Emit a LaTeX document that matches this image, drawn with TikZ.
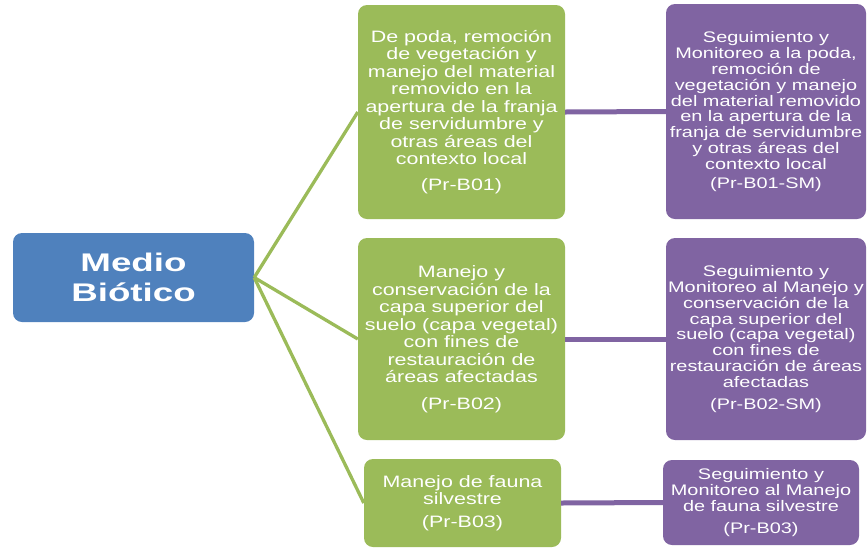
\documentclass[tikz,border=0pt]{standalone}
\usepackage{fontspec}
\setmainfont{Liberation Sans}
\newfontfamily\gfont[FakeStretch=1.3]{Liberation Sans}
\newfontfamily\tfont[FakeStretch=1.44]{Liberation Sans}
\definecolor{mblue}{HTML}{4F81BD}
\definecolor{mgreen}{HTML}{9BBB59}
\definecolor{mpurple}{HTML}{8064A2}
\begin{document}
\begin{tikzpicture}[x=1pt,y=-1pt,
  box/.style={rounded corners=9pt, text=white, align=center, inner sep=0pt, anchor=center},
  tbox/.style={box, fill=mblue, font=\tfont\bfseries\fontsize{25.5}{30}\selectfont},
  gbox/.style={box, fill=mgreen, font=\gfont\fontsize{16.5}{17.5}\selectfont},
  pbox/.style={box, fill=mpurple, font=\gfont\fontsize{15.3}{15.9}\selectfont},
  gline/.style={draw=mgreen, line width=3.3pt},
  pline/.style={draw=mpurple, line width=5pt}]
\useasboundingbox (0,0) rectangle (867,547);

\node[tbox, minimum width=241pt, minimum height=89pt] (m) at (133.5,277.5) {Medio\\Biótico};

\node[gbox, minimum width=207pt, minimum height=214pt] (g1) at (461.5,112)
  {De poda, remoción\\de vegetación y\\manejo del material\\removido en la\\apertura de la franja\\de servidumbre y\\otras áreas del\\contexto local\\[8pt](Pr-B01)};
\node[gbox, minimum width=207pt, minimum height=202pt] (g2) at (461.5,339)
  {Manejo y\\conservación de la\\capa superior del\\suelo (capa vegetal)\\con fines de\\restauración de\\áreas afectadas\\[9pt](Pr-B02)};
\node[gbox, minimum width=197pt, minimum height=88pt] (g3) at (462.5,503)
  {Manejo de fauna\\silvestre\\[5pt](Pr-B03)};

\node[pbox, minimum width=200pt, minimum height=215pt] (p1) at (766,111.5)
  {Seguimiento y\\Monitoreo a la poda,\\remoción de\\vegetación y manejo\\del material removido\\en la apertura de la\\franja de servidumbre\\y otras áreas del\\contexto local\\[3pt](Pr-B01-SM)};
\node[pbox, minimum width=200pt, minimum height=202pt] (p2) at (766,339)
  {Seguimiento y\\Monitoreo al Manejo y\\conservación de la\\capa superior del\\suelo (capa vegetal)\\con fines de\\restauración de áreas\\afectadas\\[6pt](Pr-B02-SM)};
\node[pbox, minimum width=196pt, minimum height=85pt] (p3) at (761,502.5)
  {Seguimiento y\\Monitoreo al Manejo\\de fauna silvestre\\[6pt](Pr-B03)};

\draw[gline] (m.east) -- (g1.west);
\draw[gline] (m.east) -- (g2.west);
\draw[gline] (m.east) -- (g3.west);
\draw[pline] (g1.east) -- (p1.west);
\draw[pline] (g2.east) -- (p2.west);
\draw[pline] (g3.east) -- (p3.west);
\end{tikzpicture}
\end{document}
